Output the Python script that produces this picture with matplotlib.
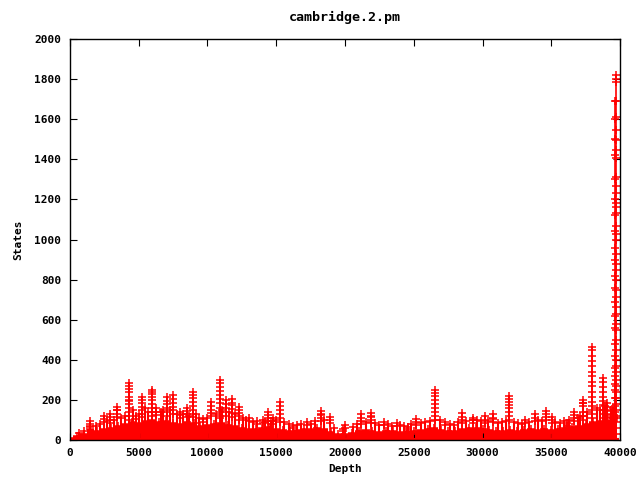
import matplotlib
matplotlib.use("Agg")
import matplotlib.pyplot as plt

# lower dense band: upper edge of the solid red area, every 500 depth
band_depth = list(range(0, 40000, 500)) + [39800]
band_states = [10, 20, 30, 55, 45, 55, 60, 70, 80, 90,
               85, 95, 100, 90, 95, 85, 80, 90, 85, 70,
               75, 80, 85, 75, 70, 60, 55, 55, 60, 65,
               55, 50, 45, 50, 55, 55, 60, 55, 40, 30,
               30, 35, 45, 50, 45, 40, 45, 45, 40, 45,
               45, 50, 55, 60, 50, 45, 45, 55, 60, 60,
               55, 50, 45, 45, 50, 45, 50, 55, 50, 55,
               50, 55, 60, 65, 70, 80, 90, 95, 100, 110, 110]

# small spikes poking out of the band
minor_depth = [700, 1000, 1900, 2200, 2700, 3200, 3700, 4000, 4600, 5000,
               5500, 5700, 6600, 6800, 7300, 7800, 8200, 8700, 9200, 9400,
               10000, 10600, 11100, 11600, 12000, 12600, 12800, 13300, 14200, 14600,
               15000, 15600, 15900, 16500, 16800, 17500, 17800, 18500, 19200, 20600,
               20900, 21500, 22200, 22500, 23100, 23400, 24000, 24300, 24800, 25500,
               25800, 26200, 26900, 27600, 27900, 28200, 28800, 29600, 29900, 30400,
               31100, 31400, 31700, 32300, 32600, 32900, 33400, 34000, 34300, 35300,
               35600, 35900, 36300, 36900, 37100, 37600, 38300, 38500, 38900, 39500]
minor_states = [35, 45, 70, 80, 95, 100, 110, 120, 150, 130,
                160, 140, 140, 150, 150, 130, 130, 120, 130, 110,
                110, 130, 150, 140, 130, 110, 100, 90, 90, 95,
                100, 90, 80, 75, 80, 80, 95, 100, 60, 65,
                80, 90, 85, 75, 80, 70, 75, 70, 80, 85,
                90, 95, 100, 80, 75, 90, 95, 100, 95, 95,
                85, 90, 95, 90, 85, 80, 90, 100, 95, 90,
                85, 95, 100, 110, 120, 140, 160, 150, 170, 160]

# tall spikes: depth and the state counts seen stacked on each spike
spike_depth = [1500, 2500, 2950, 3450, 4300, 4800, 5240, 5960, 6300, 7060,
               7500, 8000, 8500, 8950, 9650, 10300, 10900, 11350, 11800, 12330,
               13020, 13600, 14010, 14420, 14800, 15300, 16220, 17210, 18230, 18900,
               19860, 20000, 21160, 21880, 22860, 23760, 24580, 25160, 26550, 27270,
               28500, 29300, 30180, 30790, 31950, 33100, 33830, 34620, 35030, 36120,
               36650, 37330, 37950, 38740, 39050, 39300, 39600, 39720]
spike_levels = [
    [95, 80, 70, 65],
    [120, 105, 90],
    [130, 115, 100, 85],
    [165, 150, 148, 130, 115],
    [285, 270, 255, 240, 215, 200, 195, 180, 160, 140, 120, 100],
    [120, 105],
    [215, 200, 185, 165, 150, 130, 115],
    [250, 240, 230, 215, 200, 180, 160, 140, 120],
    [160, 140, 125],
    [215, 195, 180, 160, 140, 120],
    [225, 205, 185, 165, 150, 130],
    [140, 125, 110],
    [160, 145, 130, 115],
    [240, 225, 210, 190, 170, 150, 130, 115],
    [105, 90],
    [190, 170, 150, 135, 120],
    [300, 285, 265, 245, 225, 205, 185, 160, 140, 120, 110],
    [200, 180, 160, 140, 120],
    [205, 185, 175, 155, 135, 115],
    [165, 150, 135, 120, 100],
    [110, 95],
    [95, 80],
    [100, 85],
    [138, 125, 110, 95],
    [110, 95, 80],
    [188, 170, 150, 130, 110, 90],
    [70, 60],
    [90, 75],
    [145, 130, 125, 110, 95],
    [113, 100, 85],
    [55, 45],
    [75, 60],
    [128, 110, 95, 80],
    [136, 120, 115, 100, 85],
    [91, 75],
    [85, 70],
    [66, 55],
    [103, 90, 75],
    [249, 235, 220, 200, 180, 160, 140, 120, 100],
    [91, 75],
    [133, 115, 100, 85],
    [110, 100, 98, 85],
    [118, 100, 85],
    [128, 110, 105, 90],
    [220, 205, 190, 175, 160, 140, 120, 100],
    [100, 85],
    [128, 110, 95],
    [146, 130, 115, 100],
    [116, 100, 85],
    [85, 70],
    [141, 125, 110, 95],
    [200, 185, 183, 170, 140, 120, 118, 100],
    [465, 450, 420, 395, 370, 340, 320, 290, 270, 240, 215, 190, 170, 150, 130, 110],
    [308, 290, 265, 240, 215, 195, 175, 150, 130, 110],
    [185, 165, 145, 125, 110],
    [150, 130, 115],
    [1690, 1600, 1500, 1420, 1300, 1200, 1120, 1040, 960, 900, 820, 760,
     690, 620, 560, 480, 420, 360, 320, 280, 250, 210, 170, 140],
    [1820, 1800, 1785, 1690, 1610, 1545, 1495, 1445, 1405, 1310, 1265, 1230,
     1180, 1160, 1130, 1065, 1030, 1000, 930, 880, 850, 800, 750, 715, 665,
     630, 580, 550, 500, 450, 400, 370, 340, 300, 270, 240, 210, 180, 150,
     120, 90, 60, 30],
]

red = "#ff0000"
plt.rcParams["font.family"] = "DejaVu Sans Mono"
plt.rcParams["font.weight"] = "bold"
plt.rcParams["font.size"] = 8

fig = plt.figure(figsize=(6.4, 4.8), dpi=100)
ax = fig.add_axes([0.109, 0.083, 0.86, 0.836])

ax.fill_between(band_depth, 0, band_states, step="mid", color=red, lw=0)
ax.plot(band_depth, band_states, "+", color=red, ms=6, mew=1.1, drawstyle="steps-mid")

ax.vlines(minor_depth, 0, minor_states, color=red, lw=1.5)
ax.plot(minor_depth, minor_states, "+", color=red, ms=6, mew=1.1)

tops = [max(l) for l in spike_levels]
ax.vlines(spike_depth, 0, tops, color=red, lw=1.2)
mx, my = [], []
for d, levels in zip(spike_depth, spike_levels):
    mx += [d] * len(levels)
    my += levels
ax.plot(mx, my, "+", color=red, ms=6, mew=1.1)
ax.plot([0, 39800], [0, 0], color=red, lw=3)

ax.set_xlim(0, 40000)
ax.set_ylim(0, 2000)
ax.set_xticks(range(0, 40001, 5000))
ax.set_yticks(range(0, 2001, 200))
ax.tick_params(direction="in", length=5, top=True, right=True, pad=6)
for s in ax.spines.values():
    s.set_linewidth(1)

ax.set_title("cambridge.2.pm", pad=13, fontweight="bold")
ax.set_xlabel("Depth", fontweight="bold", labelpad=4)
ax.set_ylabel("States", fontweight="bold", labelpad=8)

fig.savefig("out.png", dpi=100)
